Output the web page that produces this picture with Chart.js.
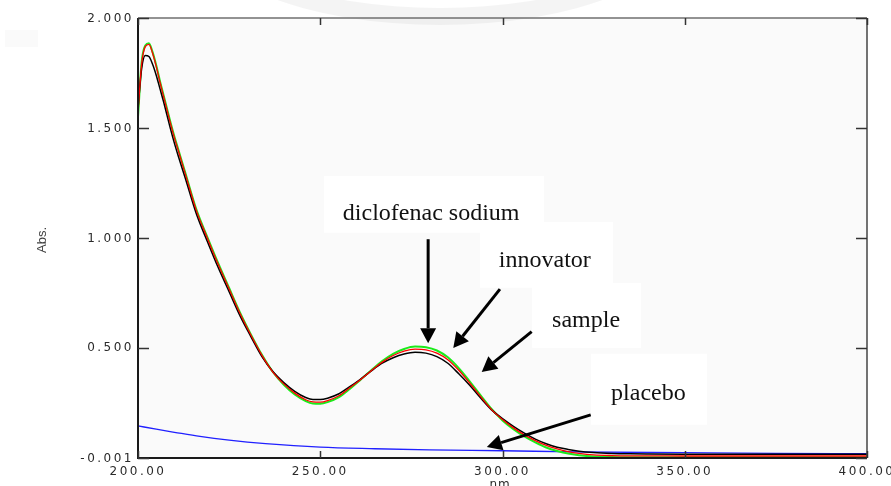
<!DOCTYPE html>
<html lang="en">
<head>
<meta charset="UTF-8">
<title>UV spectra - diclofenac sodium</title>
<script src="https://cdn.jsdelivr.net/npm/chart.js@4.4.1/dist/chart.umd.min.js"></script>
<style>
    html, body { margin: 0; padding: 0; background: #fff; }
    .chart-box { position: relative; width: 891px; height: 486px; }
</style>
</head>
<body>
<div class="chart-box"><canvas id="spectraChart"></canvas></div>
<script>
// wavelengths (nm) shared by the three drug spectra
const wavelengths = [200, 201, 202, 203, 204, 205, 206, 207, 208, 209, 210, 211,
    213, 216, 219, 222, 225, 228, 231, 234, 237, 240, 243, 246,
    248, 250, 252,
    255, 258, 261, 264, 267, 270, 273, 276, 279, 282, 285, 288, 291, 294, 297,
    300, 303, 306, 309, 312, 315, 318, 321,
    325, 330, 335, 340, 350, 360, 370, 380, 390, 400];

const diclofenacAbs = [1.59, 1.77, 1.83, 1.825, 1.79, 1.74, 1.68, 1.62, 1.555, 1.49, 1.43, 1.375,
    1.27, 1.11, 0.985, 0.865, 0.755, 0.645, 0.55, 0.46, 0.392, 0.342, 0.302, 0.274,
    0.265, 0.265, 0.271,
    0.29, 0.322, 0.357, 0.395, 0.43, 0.455, 0.472, 0.48, 0.476, 0.46, 0.43, 0.382, 0.33, 0.272, 0.218,
    0.178, 0.143, 0.112, 0.085, 0.064, 0.048, 0.038, 0.03,
    0.024, 0.02, 0.018, 0.017, 0.016, 0.016, 0.016, 0.016, 0.016, 0.016];

const innovatorAbs = [1.57, 1.79, 1.87, 1.88, 1.84, 1.78, 1.71, 1.645, 1.58, 1.515, 1.455, 1.40,
    1.29, 1.125, 1.0, 0.88, 0.768, 0.656, 0.557, 0.466, 0.39, 0.336, 0.294, 0.264,
    0.254, 0.253, 0.26,
    0.281, 0.317, 0.355, 0.396, 0.435, 0.465, 0.485, 0.494, 0.491, 0.476, 0.446, 0.398, 0.34, 0.278, 0.219,
    0.174, 0.136, 0.104, 0.078, 0.056, 0.04, 0.028, 0.02,
    0.013, 0.01, 0.009, 0.009, 0.008, 0.008, 0.008, 0.008, 0.008, 0.008];

const sampleAbs = [1.55, 1.80, 1.875, 1.885, 1.845, 1.785, 1.715, 1.65, 1.585, 1.52, 1.46, 1.405,
    1.295, 1.13, 1.005, 0.885, 0.772, 0.66, 0.56, 0.468, 0.39, 0.332, 0.288, 0.258,
    0.247, 0.246, 0.253,
    0.275, 0.312, 0.354, 0.398, 0.44, 0.473, 0.495, 0.506, 0.503, 0.488, 0.457, 0.408, 0.348, 0.284, 0.222,
    0.17, 0.13, 0.097, 0.07, 0.047, 0.031, 0.019, 0.012,
    0.006, 0.003, 0.002, 0.002, 0.002, 0.002, 0.002, 0.002, 0.002, 0.002];

const placeboNm = [200, 205, 210, 217, 225, 235, 250, 265, 280, 300, 320, 350, 375, 400];
const placeboAbs = [0.145, 0.13, 0.116, 0.097, 0.08, 0.064, 0.048, 0.041, 0.036, 0.032, 0.027, 0.023, 0.02, 0.019];

const xTicks = [200, 250, 300, 350, 400];
const xTickLabels = ['200.00', '250.00', '300.00', '350.00', '400.00'];
const yTicks = [-0.001, 0.5, 1.0, 1.5, 2.0];
const yTickLabels = ['-0.001', '0.500', '1.000', '1.500', '2.000'];

const calloutLabels = ['diclofenac sodium', 'innovator', 'sample', 'placebo'];

const toPoints = (xs, ys) => xs.map((x, i) => ({ x: x, y: ys[i] }));

// label boxes and arrows, placed in data units (nm, Abs.)
const callouts = [
    { box: [251.0, 1.282, 311.4, 1.023], text: [256.2, 1.082], from: [279.6, 0.994], to: [279.6, 0.521] },
    { box: [293.8, 1.073, 330.3, 0.773], text: [299.0, 0.868], from: [299.3, 0.767], to: [286.5, 0.499] },
    { box: [308.1, 0.795, 338.0, 0.500], text: [313.6, 0.595], from: [308.0, 0.574], to: [294.3, 0.390] },
    { box: [324.3, 0.473, 356.1, 0.150], text: [329.8, 0.264], from: [324.2, 0.195], to: [295.7, 0.049] }
];

function drawArrow(ctx, x1, y1, x2, y2) {
    const ang = Math.atan2(y2 - y1, x2 - x1);
    const len = 15, half = 8;
    const bx = x2 - len * Math.cos(ang), by = y2 - len * Math.sin(ang);
    ctx.strokeStyle = '#000';
    ctx.lineWidth = 3;
    ctx.beginPath();
    ctx.moveTo(x1, y1);
    ctx.lineTo(bx, by);
    ctx.stroke();
    ctx.fillStyle = '#000';
    ctx.beginPath();
    ctx.moveTo(x2, y2);
    ctx.lineTo(bx + half * Math.sin(ang), by - half * Math.cos(ang));
    ctx.lineTo(bx - half * Math.sin(ang), by + half * Math.cos(ang));
    ctx.closePath();
    ctx.fill();
}

const framePlugin = {
    id: 'frame',
    beforeDraw(chart) {
        const { ctx, chartArea: a } = chart;
        ctx.save();
        ctx.fillStyle = '#fafafa';
        ctx.fillRect(a.left, a.top, a.right - a.left, a.bottom - a.top);
        // faint grey smudges from the scanned page
        ctx.beginPath();
        ctx.ellipse(440, -75, 246, 100, 0, 0, Math.PI * 2);
        ctx.ellipse(440, -80, 230, 88, 0, 0, Math.PI * 2);
        ctx.fillStyle = 'rgba(0,0,0,0.045)';
        ctx.fill('evenodd');
        ctx.fillStyle = 'rgba(0,0,0,0.02)';
        ctx.fillRect(5, 30, 33, 17);
        ctx.restore();
    },
    afterDatasetsDraw(chart) {
        const { ctx, scales: { x, y } } = chart;
        ctx.save();
        callouts.forEach((c, i) => {
            const bx1 = x.getPixelForValue(c.box[0]), by1 = y.getPixelForValue(c.box[1]);
            const bx2 = x.getPixelForValue(c.box[2]), by2 = y.getPixelForValue(c.box[3]);
            ctx.fillStyle = '#fff';
            ctx.fillRect(bx1, by1, bx2 - bx1, by2 - by1);
            ctx.fillStyle = '#111';
            ctx.font = '24px "Liberation Serif", "Times New Roman", serif';
            ctx.textAlign = 'left';
            ctx.textBaseline = 'alphabetic';
            ctx.fillText(calloutLabels[i], x.getPixelForValue(c.text[0]), y.getPixelForValue(c.text[1]));
        });
        callouts.forEach(c => {
            drawArrow(ctx,
                x.getPixelForValue(c.from[0]), y.getPixelForValue(c.from[1]),
                x.getPixelForValue(c.to[0]), y.getPixelForValue(c.to[1]));
        });
        ctx.restore();
    },
    afterDraw(chart) {
        const { ctx, chartArea: a, scales: { x, y } } = chart;
        ctx.save();
        // plot box
        ctx.lineWidth = 1.5;
        ctx.strokeStyle = '#6f6f6f';
        ctx.beginPath(); ctx.moveTo(a.left, a.top); ctx.lineTo(a.right, a.top); ctx.stroke();
        ctx.strokeStyle = '#444';
        ctx.beginPath(); ctx.moveTo(a.right, a.top); ctx.lineTo(a.right, a.bottom); ctx.stroke();
        ctx.lineWidth = 2;
        ctx.strokeStyle = '#1a1a1a';
        ctx.beginPath(); ctx.moveTo(a.left, a.top); ctx.lineTo(a.left, a.bottom); ctx.lineTo(a.right, a.bottom); ctx.stroke();

        // inward tick marks
        ctx.lineWidth = 1.5;
        ctx.strokeStyle = '#333';
        xTicks.forEach(v => {
            const px = Math.round(x.getPixelForValue(v)) + 0.5;
            ctx.beginPath(); ctx.moveTo(px, a.bottom); ctx.lineTo(px, a.bottom - 7); ctx.stroke();
            ctx.beginPath(); ctx.moveTo(px, a.top); ctx.lineTo(px, a.top + 7); ctx.stroke();
        });
        yTicks.forEach(v => {
            const py = Math.round(y.getPixelForValue(v)) + 0.5;
            ctx.beginPath(); ctx.moveTo(a.left, py); ctx.lineTo(a.left + 11, py); ctx.stroke();
            ctx.beginPath(); ctx.moveTo(a.right, py); ctx.lineTo(a.right - 11, py); ctx.stroke();
        });

        // tick labels
        ctx.fillStyle = '#2a2a2a';
        ctx.font = '12px "DejaVu Sans", Verdana, sans-serif';
        ctx.letterSpacing = '2.5px';
        ctx.textBaseline = 'middle';
        ctx.textAlign = 'right';
        yTicks.forEach((v, i) => {
            ctx.fillText(yTickLabels[i], a.left - 4, y.getPixelForValue(v) + 0.5);
        });
        ctx.textAlign = 'center';
        xTicks.forEach((v, i) => {
            ctx.fillText(xTickLabels[i], x.getPixelForValue(v), a.bottom + 14);
        });

        // axis titles
        ctx.textBaseline = 'alphabetic';
        ctx.letterSpacing = '1px';
        ctx.fillText('nm.', (a.left + a.right) / 2, a.bottom + 30);
        ctx.letterSpacing = '0px';
        ctx.font = '13px "Liberation Sans Narrow", "Liberation Sans", Arial, sans-serif';
        ctx.translate(46, (a.top + a.bottom) / 2 + 2);
        ctx.rotate(-Math.PI / 2);
        ctx.textAlign = 'center';
        ctx.fillStyle = '#444';
        ctx.fillText('Abs.', 0, 0);
        ctx.restore();
    }
};

const lineStyle = { pointRadius: 0, fill: false, cubicInterpolationMode: 'monotone' };

new Chart(document.getElementById('spectraChart'), {
    type: 'line',
    data: {
        datasets: [
            Object.assign({ label: 'innovator', data: toPoints(wavelengths, innovatorAbs),
                borderColor: '#ff0000', borderWidth: 1.3, order: 1 }, lineStyle),
            Object.assign({ label: 'diclofenac sodium', data: toPoints(wavelengths, diclofenacAbs),
                borderColor: '#000000', borderWidth: 1.5, order: 2 }, lineStyle),
            Object.assign({ label: 'sample', data: toPoints(wavelengths, sampleAbs),
                borderColor: '#1aeb1a', borderWidth: 2, order: 3 }, lineStyle),
            Object.assign({ label: 'placebo', data: toPoints(placeboNm, placeboAbs),
                borderColor: '#2020ff', borderWidth: 1.3, order: 4 }, lineStyle)
        ]
    },
    options: {
        responsive: true,
        maintainAspectRatio: false,
        animation: false,
        layout: { padding: { left: 138, top: 18, right: 24, bottom: 28 } },
        plugins: { legend: { display: false }, tooltip: { enabled: false } },
        scales: {
            x: { type: 'linear', min: 200, max: 400, display: false },
            y: { type: 'linear', min: -0.001, max: 2.0, display: false }
        }
    },
    plugins: [framePlugin]
});
</script>
</body>
</html>
